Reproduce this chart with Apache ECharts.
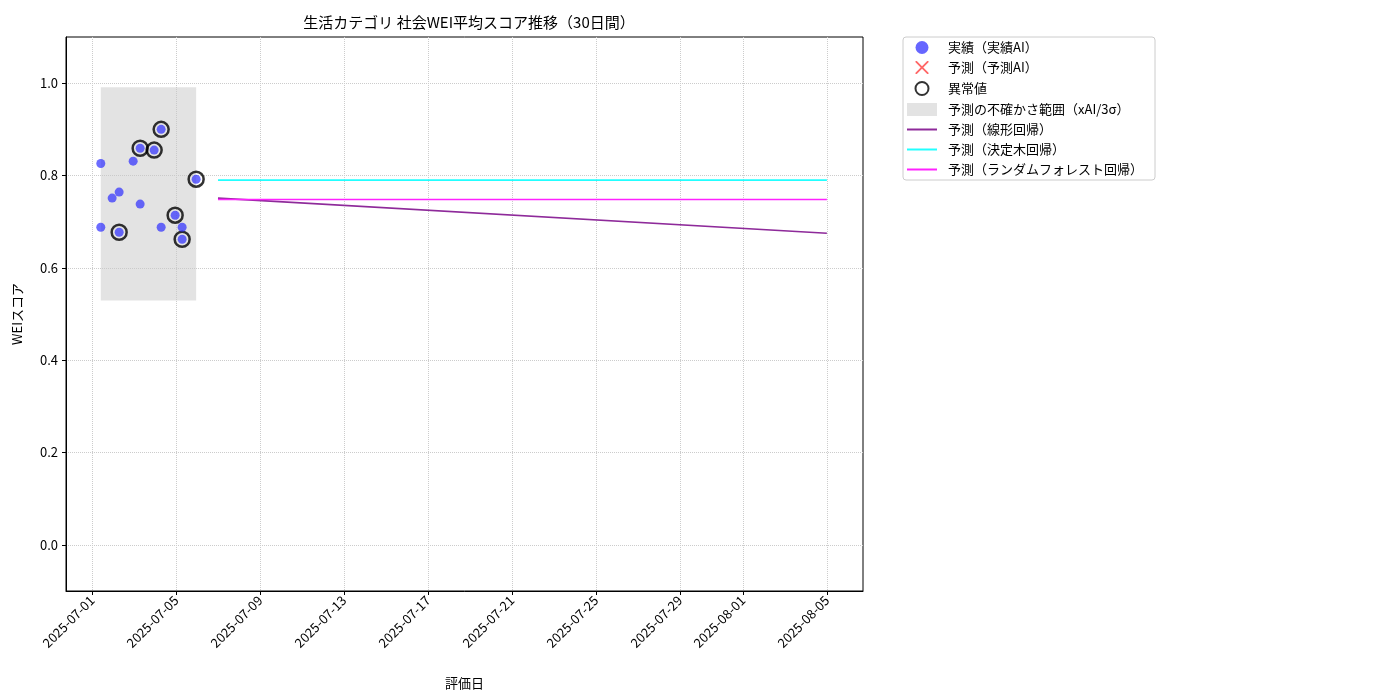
<!DOCTYPE html>
<html><head><meta charset="utf-8">
<script src="https://cdn.jsdelivr.net/npm/echarts@6/dist/echarts.min.js"></script>
<style>html,body{margin:0;padding:0;background:#fff}#c{width:1400px;height:700px}</style>
</head><body><div id="c"></div>
<script>
const actualTimes=['2025-07-01T10:00','2025-07-01T10:00','2025-07-01T23:00','2025-07-02T07:00','2025-07-02T07:00','2025-07-02T23:00','2025-07-03T07:00','2025-07-03T07:00','2025-07-03T23:00','2025-07-04T07:00','2025-07-04T07:00','2025-07-04T23:00','2025-07-05T07:00','2025-07-05T07:00','2025-07-05T23:00'];
const actualValues=[0.826,0.688,0.751,0.764,0.677,0.831,0.859,0.738,0.855,0.900,0.688,0.714,0.688,0.662,0.792];
const outlierTimes=['2025-07-02T07:00','2025-07-03T07:00','2025-07-03T23:00','2025-07-04T07:00','2025-07-04T23:00','2025-07-05T07:00','2025-07-05T23:00'];
const outlierValues=[0.677,0.859,0.855,0.900,0.714,0.662,0.792];
const bandTimes=['2025-07-01T10:00','2025-07-05T23:00'];
const bandValues=[0.529,0.991];
const predTimes=['2025-07-07T00:00','2025-08-05T00:00'];
const linearValues=[0.751,0.675];
const treeValues=[0.790,0.790];
const forestValues=[0.748,0.748];
const tickDates=['2025-07-01','2025-07-05','2025-07-09','2025-07-13','2025-07-17','2025-07-21','2025-07-25','2025-07-29','2025-08-01','2025-08-05'];
const yTicks=[0.0,0.2,0.4,0.6,0.8,1.0];

const T=s=>Date.parse(s.length===10?s+'T00:00Z':s+'Z');
const DAY=86400000;
const pad=n=>String(n).padStart(2,'0');
const fmt=v=>{const d=new Date(v);return d.getUTCFullYear()+'-'+pad(d.getUTCMonth()+1)+'-'+pad(d.getUTCDate());};
const zip=(ts,vs)=>ts.map((t,i)=>[T(t),vs[i]]);
const font='"Noto Sans CJK JP", "DejaVu Sans", sans-serif';
const lineIcon='path://M0,0 L30,0 L30,2 L0,2 Z';

const chart=echarts.init(document.getElementById('c'));
chart.setOption({
  animation:false,
  textStyle:{fontFamily:font},
  title:{text:'生活カテゴリ 社会WEI平均スコア推移（30日間）',left:464,top:10,textAlign:'center',textStyle:{fontSize:15,fontWeight:'normal',color:'#000',fontFamily:font}},
  grid:{left:66,right:537,top:37,bottom:109,containLabel:false,show:true,borderColor:'#000',borderWidth:1},
  legend:{orient:'vertical',left:903,top:37,itemGap:7,itemWidth:30,itemHeight:13,padding:[4,12,4,4],
    borderColor:'#ccc',borderWidth:1,borderRadius:3,textStyle:{fontSize:13,color:'#000',padding:[0,0,0,6]},
    data:[
      {name:'実績（実績AI）',icon:'circle',itemStyle:{color:'#4040ff'}},
      {name:'予測（予測AI）',icon:'path://M0,0 L2,0 L10,8 L18,0 L20,0 L20,2 L12,10 L20,18 L20,20 L18,20 L10,12 L2,20 L0,20 L0,18 L8,10 L0,2 Z'},
      {name:'異常値',icon:'circle'},
      {name:'予測の不確かさ範囲（xAI/3σ）',icon:'rect'},
      {name:'予測（線形回帰）',icon:lineIcon},{name:'予測（決定木回帰）',icon:lineIcon},{name:'予測（ランダムフォレスト回帰）',icon:lineIcon}
    ]},
  xAxis:{type:'value',min:T('2025-07-01')-1.24*DAY,max:T('2025-08-05')+1.72*DAY,
    name:'評価日',nameLocation:'middle',nameGap:86,nameTextStyle:{fontSize:13,color:'#000'},
    axisLine:{onZero:false,lineStyle:{color:'#000'}},axisTick:{show:true,customValues:tickDates.map(T),length:4,lineStyle:{color:'#000'}},
    axisLabel:{customValues:tickDates.map(T),formatter:fmt,rotate:45,fontSize:13,color:'#000',margin:7},
    splitLine:{show:true,lineStyle:{type:'dotted',color:'#ccc'}}},
  yAxis:{type:'value',min:-0.1,max:1.1,
    name:'WEIスコア',nameLocation:'middle',nameGap:42,nameTextStyle:{fontSize:13,color:'#000'},
    axisLine:{show:true,onZero:false,lineStyle:{color:'#000'}},axisTick:{show:true,customValues:yTicks,length:4,lineStyle:{color:'#000'}},
    axisLabel:{customValues:yTicks,formatter:v=>v.toFixed(1),fontSize:13,color:'#000'},
    splitLine:{show:true,lineStyle:{type:'dotted',color:'#ccc'}}},
  series:[
    {name:'予測の不確かさ範囲（xAI/3σ）',type:'line',data:[],itemStyle:{color:'#e3e3e3',borderColor:'#d0d0d0'},z:1,
      markArea:{silent:true,itemStyle:{color:'rgba(200,200,200,0.5)'},data:[[{xAxis:T(bandTimes[0]),yAxis:bandValues[0]},{xAxis:T(bandTimes[1]),yAxis:bandValues[1]}]]}},
    {name:'予測（線形回帰）',type:'line',data:zip(predTimes,linearValues),symbol:'none',lineStyle:{color:'#8e2a9a',width:1.6},itemStyle:{color:'#8e2a9a'}},
    {name:'予測（決定木回帰）',type:'line',data:zip(predTimes,treeValues),symbol:'none',lineStyle:{color:'#22ffff',width:1.6},itemStyle:{color:'#22ffff'}},
    {name:'予測（ランダムフォレスト回帰）',type:'line',data:zip(predTimes,forestValues),symbol:'none',lineStyle:{color:'#ff22ff',width:1.6},itemStyle:{color:'#ff22ff'}},
    {name:'予測（予測AI）',type:'scatter',data:[],itemStyle:{color:'#ff4040'}},
    {name:'異常値',type:'scatter',data:zip(outlierTimes,outlierValues),symbol:'circle',symbolSize:15,z:3,
      itemStyle:{color:'rgba(0,0,0,0)',borderColor:'#000',borderWidth:2.5}},
    {name:'実績（実績AI）',type:'scatter',data:zip(actualTimes,actualValues),symbolSize:9,z:4,itemStyle:{color:'rgba(40,40,255,0.85)'}}
  ]
});
</script></body></html>
